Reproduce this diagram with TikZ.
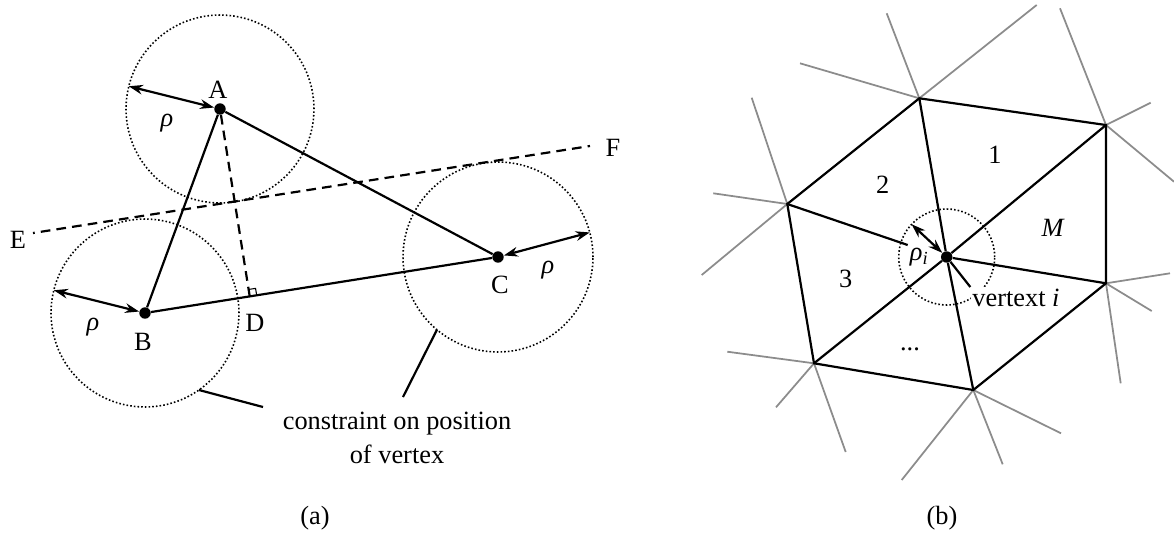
\documentclass[tikz,border=0pt]{standalone}
\usepackage{fontspec}
\setmainfont{Liberation Serif}
\usetikzlibrary{arrows.meta,calc,positioning}

\begin{document}
\begin{tikzpicture}[x=0.02cm,y=-0.02cm,
	font=\fontsize{15}{19}\selectfont,
	edge/.style={line width=1.25pt},
	outer/.style={line width=1pt,draw=black!45},
	ring/.style={line width=0.9pt,dash pattern=on 0.9pt off 1.2pt},
	dashline/.style={line width=1.25pt,dash pattern=on 5.5pt off 3.5pt},
	vdot/.style={circle,fill,inner sep=0pt,minimum size=6.5pt},
	rarrow/.style={line width=1.25pt,{Stealth[length=8pt,width=5.5pt]}-{Stealth[length=8pt,width=5.5pt]}}]
	\useasboundingbox (0,0) rectangle (1174,535);

	% (a)
	\node[vdot] (A) at (220,109) {};
	\node[vdot] (B) at (145,313) {};
	\node[vdot] (C) at (498,257) {};
	\coordinate (D) at ($(B)!(A)!(C)$);
	\draw[ring] (A) circle[radius=1.88cm];
	\draw[ring] (B) circle[radius=1.88cm];
	\draw[ring] (C) circle[radius=1.9cm];
	\draw[edge] (A) -- (B) -- (C) -- (A);
	\draw[dashline] (A) -- (D);
	\coordinate (d1) at ($(D)!4pt!(C)$);
	\coordinate (d2) at ($(D)!4pt!(A)$);
	\draw[line width=0.6pt] (d1) -- ($(d1)+(d2)-(D)$) -- (d2);
	\coordinate (e0) at (33,233);
	\coordinate (f0) at (590,146);
	\draw[dashline,dash phase=4.5pt] (e0) -- (f0);
	\draw[rarrow] (A) -- ($(A)+(166:1.88cm)$);
	\draw[rarrow] (B) -- ($(B)+(166:1.88cm)$);
	\draw[rarrow] (C) -- ($(C)+(15:1.9cm)$);
	\node (labA) at (218,90) {A};
	\node (labB) at (143,342) {B};
	\node (labC) at (500,285) {C};
	\node (labD) at (255,323) {D};
	\node (labE) at (18,240) {E};
	\node (labF) at (613,148) {F};
	\node (rhoA) at (167,123) {\textit{ρ}};
	\node (rhoB) at (93,327) {\textit{ρ}};
	\node (rhoC) at (548,270) {\textit{ρ}};
	\node[align=center] (note) at (397,438) {constraint on position\\of vertex};
	\coordinate (bl) at ($(B)+(-55:1.88cm)$);
	\coordinate (cl) at ($(C)+(-130:1.9cm)$);
	\coordinate (n1) at (263,407);
	\coordinate (n2) at (403,397);
	\draw[edge] (bl) -- (n1);
	\draw[edge] (cl) -- (n2);
	\node (capa) at (315,518) {(a)};

	% (b)
	\node[vdot] (V) at (946.7,257) {};
	\coordinate (h1) at (919.3,98.3);
	\coordinate (h2) at (1106,125);
	\coordinate (h3) at (1106,283.3);
	\coordinate (h4) at (973.3,390);
	\coordinate (h5) at (814,363.3);
	\coordinate (h6) at (787.3,204);
	\coordinate (hcut) at (907.7,245);
	\foreach \h/\x/\y in {h1/886.7/13.3, h1/1036.7/5, h1/800/63.3,
		h2/1060/8.3, h2/1150.7/102.7, h2/1174/181.7,
		h3/1170/273.3, h3/1151.7/311, h3/1120.7/383.3,
		h4/1061/433.3, h4/1002.7/464.3, h4/901.7/480,
		h5/727.3/351.7, h5/776/407.3, h5/845.7/452,
		h6/751.7/97.7, h6/713.3/193.3, h6/701.7/275}
		\draw[outer] (\h) -- (\x,\y);
	\draw[edge] (h1) -- (h2) -- (h3) -- (h4) -- (h5) -- (h6) -- cycle;
	\foreach \h in {h1,h2,h3,h4,h5}
		\draw[edge] (V) -- (\h);
	\draw[edge] (h6) -- (hcut);
	\draw[ring] (V) circle[radius=0.96cm];
	\draw[rarrow] (V) -- ($(V)+(137:0.96cm)$);
	\node[fill=white,inner sep=1pt] (vlab) at (1016,298) {vertext \textit{i}};
	\draw[edge] (V) -- (vlab.north west);
	\node (rhoi) at (919.3,257.3) {\textit{ρ\textsubscript{i}}};
	\node (t1) at (995,155) {1};
	\node (t2) at (882.7,185) {2};
	\node (t3) at (845.7,279.3) {3};
	\node (tM) at (1053.3,228.3) {\textit{M}};
	\node (tdots) at (910,349.3) {...};
	\node (capb) at (942,518) {(b)};
\end{tikzpicture}
\end{document}
